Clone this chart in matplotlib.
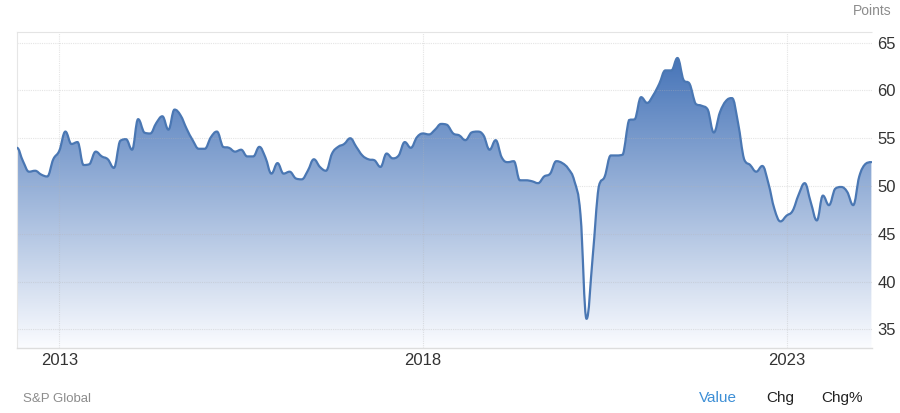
import numpy as np
import matplotlib
matplotlib.use('Agg')
import matplotlib.pyplot as plt
from matplotlib.path import Path
from matplotlib.patches import PathPatch

# monthly index readings, first value is June 2012
pmi_2012 = [54.0, 52.6, 51.5, 51.6, 51.2, 51.0, 52.8]
pmi_2013 = [53.7, 55.7, 54.4, 54.6, 52.2, 52.3, 53.6, 53.1, 52.8, 51.9, 54.7, 54.9]
pmi_2014 = [53.8, 57.0, 55.6, 55.5, 56.6, 57.3, 55.9, 58.0, 57.4, 56.0, 54.8, 53.9]
pmi_2015 = [53.9, 55.1, 55.7, 54.1, 54.0, 53.6, 53.8, 53.1, 53.1, 54.1, 53.0, 51.3]
pmi_2016 = [52.4, 51.3, 51.5, 50.8, 50.7, 51.6, 52.8, 52.0, 51.6, 53.4, 54.1, 54.4]
pmi_2017 = [55.0, 54.1, 53.2, 52.8, 52.7, 52.0, 53.4, 52.9, 53.2, 54.6, 54.0, 55.1]
pmi_2018 = [55.5, 55.4, 55.9, 56.5, 56.4, 55.5, 55.3, 54.8, 55.6, 55.7, 55.3, 53.8]
pmi_2019 = [54.8, 53.0, 52.5, 52.6, 50.6, 50.6, 50.5, 50.3, 51.0, 51.3, 52.6, 52.4]
pmi_2020 = [51.8, 50.5, 47.0, 36.1, 42.5, 49.9, 51.0, 53.2, 53.2, 53.3, 56.9, 57.0]
pmi_2021 = [59.3, 58.7, 59.5, 60.7, 62.1, 62.1, 63.4, 61.1, 60.7, 58.6, 58.4, 58.0]
pmi_2022 = [55.6, 57.7, 58.9, 59.2, 56.6, 52.8, 52.2, 51.5, 52.1, 50.3, 47.6, 46.3]
pmi_2023 = [46.9, 47.4, 49.1, 50.3, 48.3, 46.4, 49.0, 48.0, 49.7, 49.9, 49.4, 48.0]
pmi_2024 = [51.0, 52.3, 52.5]

year_ticks = [0, 60, 120]          # months since Jan 2013
year_labels = ['2013', '2018', '2023']
y_ticks = [35, 40, 45, 50, 55, 60, 65]

values = (pmi_2012 + pmi_2013 + pmi_2014 + pmi_2015 + pmi_2016 + pmi_2017 +
          pmi_2018 + pmi_2019 + pmi_2020 + pmi_2021 + pmi_2022 + pmi_2023 + pmi_2024)
months = np.arange(len(values)) - len(pmi_2012)


def spline_vertices(xs, ys, k=0.4):
    # smooth bezier through the points, flat at local extremes
    xs = np.asarray(xs, float)
    ys = np.asarray(ys, float)
    n = len(xs)
    slope = np.zeros(n)
    for i in range(1, n - 1):
        lo, hi = ys[i - 1], ys[i + 1]
        if (ys[i] - lo) * (ys[i] - hi) >= 0:
            slope[i] = 0.0
        else:
            slope[i] = (hi - lo) / (xs[i + 1] - xs[i - 1])
    verts = [(xs[0], ys[0])]
    codes = [Path.MOVETO]
    for i in range(n - 1):
        dx = xs[i + 1] - xs[i]
        y0, y1 = ys[i], ys[i + 1]
        c1 = y0 + slope[i] * k * dx
        c2 = y1 - slope[i + 1] * k * dx
        a, b = min(y0, y1), max(y0, y1)
        c1 = min(max(c1, a), b)
        c2 = min(max(c2, a), b)
        verts += [(xs[i] + k * dx, c1), (xs[i + 1] - k * dx, c2), (xs[i + 1], y1)]
        codes += [Path.CURVE4] * 3
    return np.array(verts), codes


xmin, xmax = -7.03, 134.06
ymin, ymax = 33.02, 66.15

fig = plt.figure(figsize=(9, 4.13), dpi=100)
ax = fig.add_axes([0.0186, 0.1567, 0.95, 0.7665])
ax.set_xlim(xmin, xmax)
ax.set_ylim(ymin, ymax)

verts, codes = spline_vertices(months, values)
line_path = Path(verts, codes)

fill_verts = np.vstack([verts, [[months[-1], ymin], [months[0], ymin], verts[0]]])
fill_codes = codes + [Path.LINETO, Path.LINETO, Path.CLOSEPOLY]
fill_patch = PathPatch(Path(fill_verts, fill_codes), facecolor='none',
                       edgecolor='none', transform=ax.transData)
ax.add_patch(fill_patch)

top_c = np.array([70, 116, 184]) / 255
bot_c = np.array([251, 252, 255]) / 255
top_v = max(values)
t = np.clip((np.linspace(ymin, ymax, 400) - ymin) / (top_v - ymin), 0, 1)[:, None]
grad = bot_c + (top_c - bot_c) * t
im = ax.imshow(grad[:, None, :], extent=[xmin, xmax, ymin, ymax], origin='lower',
               aspect='auto', zorder=1, interpolation='bilinear')
im.set_clip_path(fill_patch)

ax.add_patch(PathPatch(line_path, facecolor='none', edgecolor='#4a77b3',
                       lw=1.6, zorder=3, capstyle='round', joinstyle='round'))

# grid, faintly visible through the fill as well
for v in y_ticks:
    ax.axhline(v, color='#b4b4b4', alpha=0.35, lw=0.8, ls=(0, (1, 1)), zorder=2)
for m in year_ticks:
    ax.axvline(m, color='#b4b4b4', alpha=0.35, lw=0.8, ls=(0, (1, 1)), zorder=2)

ax.spines['right'].set_visible(False)
ax.spines['top'].set_color('#e4e4e4')
ax.spines['top'].set_linestyle((0, (1, 1)))
ax.spines['top'].set_linewidth(0.8)
ax.spines['left'].set_color('#e6e6e6')
ax.spines['left'].set_linewidth(0.8)
ax.spines['bottom'].set_color('#dddddd')
ax.spines['bottom'].set_linewidth(1.0)

ax.yaxis.tick_right()
ax.set_yticks(y_ticks)
ax.set_yticklabels([str(v) for v in y_ticks])
ax.set_xticks(year_ticks)
ax.set_xticklabels(year_labels)
ax.tick_params(axis='y', length=0, pad=4, labelsize=12, labelcolor='#333333')
ax.tick_params(axis='x', length=0, pad=3.5, labelsize=12, labelcolor='#333333')
for lab in ax.get_xticklabels() + ax.get_yticklabels():
    lab.set_family('Liberation Sans')

fig.text(0.991, 0.974, 'Points', ha='right', va='center', fontsize=10,
         color='#8c8c8c', family='Liberation Sans')
fig.text(0.026, 0.035, 'S&P Global', ha='left', va='center', fontsize=9.5,
         color='#8c8c8c', family='Liberation Sans')
fig.text(0.777, 0.036, 'Value', ha='left', va='center', fontsize=11,
         color='#3d8fd6', family='Liberation Sans')
fig.text(0.851, 0.036, 'Chg', ha='left', va='center', fontsize=11,
         color='#222222', family='Liberation Sans')
fig.text(0.912, 0.036, 'Chg%', ha='left', va='center', fontsize=11,
         color='#222222', family='Liberation Sans')

fig.savefig('out.png', dpi=100)
